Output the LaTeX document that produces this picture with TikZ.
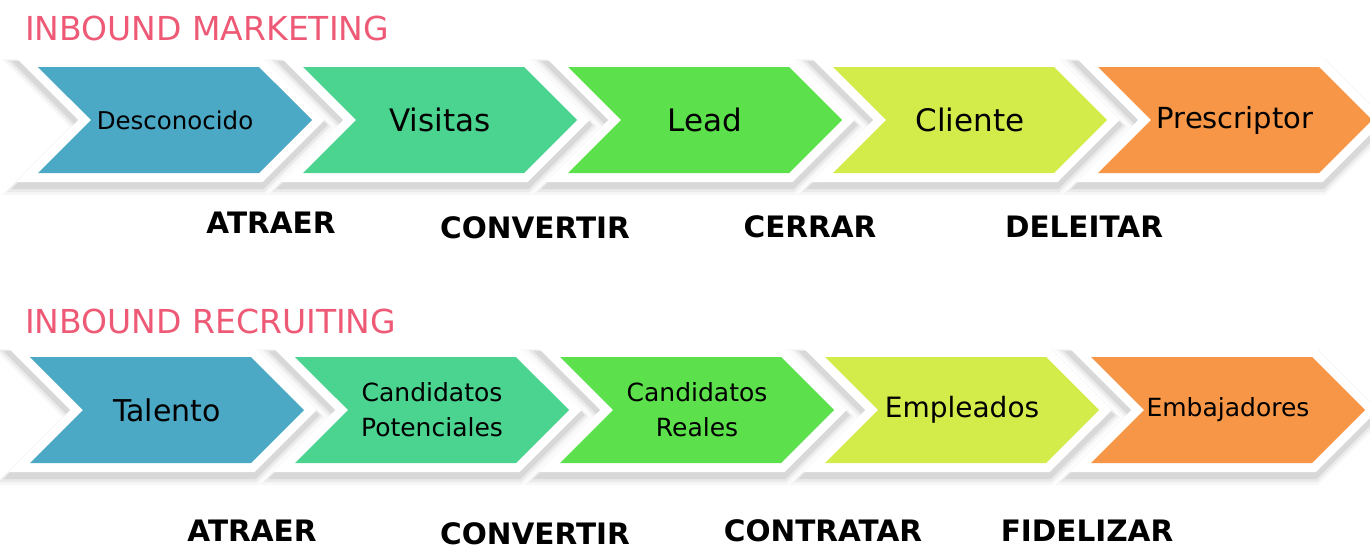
\documentclass[tikz,border=0pt]{standalone}
\usepackage{fontspec}
\setmainfont{DejaVu Sans}
\usepackage{tikz}
\usetikzlibrary{shapes.symbols,positioning}

\definecolor{cblue}{HTML}{4BA9C6}
\definecolor{cgreen}{HTML}{4AD490}
\definecolor{clime}{HTML}{5CE04B}
\definecolor{cyellow}{HTML}{D4EC4A}
\definecolor{corange}{HTML}{F69646}
\definecolor{cpink}{HTML}{EE5A76}

\begin{document}
\begin{tikzpicture}[
    x=1pt, y=-1pt,
    chev/.style={signal, signal from=west, signal to=east, signal pointer angle=90,
        minimum width=274pt, minimum height=106pt, inner sep=0pt, outer sep=0pt,
        align=center, text=black,
        preaction={draw=black, draw opacity=0.03, line width=30pt, transform canvas={yshift=-7pt}},
        preaction={draw=black, draw opacity=0.05, line width=26pt, transform canvas={yshift=-6pt}},
        preaction={draw=black, draw opacity=0.08, line width=22pt, transform canvas={yshift=-5pt}},
        preaction={draw=white, line width=18pt}},
    title/.style={text=cpink, font=\fontsize{33}{38}\selectfont, inner sep=0pt, anchor=base west},
    stage/.style={font=\bfseries\fontsize{29.5}{34}\selectfont, inner sep=0pt, anchor=base}
]
\useasboundingbox (0,0) rectangle (1370,549);

% inbound marketing
\node (mkt) [title] at (25,40) {INBOUND MARKETING};

\node (desconocido) [chev, fill=cblue, font=\fontsize{24.5}{30}\selectfont] at (175,120) {Desconocido};
\node (visitas) [chev, fill=cgreen, font=\fontsize{31}{36}\selectfont] at (440,120) {Visitas};
\node (lead) [chev, fill=clime, font=\fontsize{31}{36}\selectfont] at (705,120) {Lead};
\node (cliente) [chev, fill=cyellow, font=\fontsize{31}{36}\selectfont] at (970,120) {Cliente};
\node (prescriptor) [chev, fill=corange, font=\fontsize{29}{34}\selectfont] at (1235,120) {Prescriptor};

\node (atraer) [stage] at (271,233) {ATRAER};
\node (convertir) [stage] at (535,238) {CONVERTIR};
\node (cerrar) [stage] at (810,237) {CERRAR};
\node (deleitar) [stage] at (1084,237) {DELEITAR};

% inbound recruiting
\node (rec) [title] at (25,333) {INBOUND RECRUITING};

\node (talento) [chev, fill=cblue, font=\fontsize{30}{35}\selectfont] at (167,410) {Talento};
\node (potenciales) [chev, fill=cgreen, font=\fontsize{25}{35}\selectfont] at (432,410) {Candidatos\\Potenciales};
\node (reales) [chev, fill=clime, font=\fontsize{25}{35}\selectfont] at (697,410) {Candidatos\\Reales};
\node (empleados) [chev, fill=cyellow, font=\fontsize{28}{34}\selectfont] at (962,410) {Empleados};
\node (embajadores) [chev, fill=corange, font=\fontsize{25}{30}\selectfont] at (1228,410) {Embajadores};

\node (atraer2) [stage] at (252,541) {ATRAER};
\node (convertir2) [stage] at (535,544) {CONVERTIR};
\node (contratar) [stage] at (823,541) {CONTRATAR};
\node (fidelizar) [stage] at (1087,541) {FIDELIZAR};

\end{tikzpicture}
\end{document}
